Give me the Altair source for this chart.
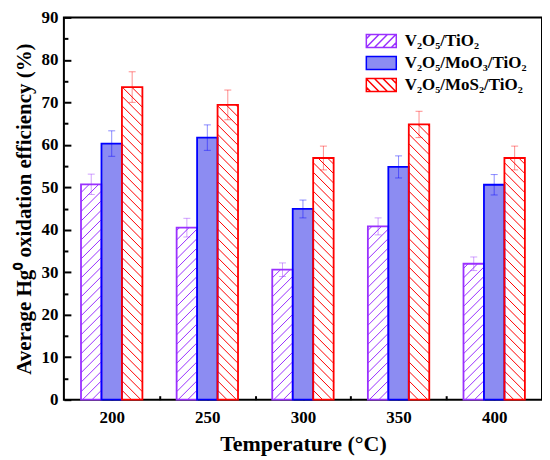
import altair as alt
import numpy as np
import pandas as pd

# ---------------- data ----------------
temps = [200, 250, 300, 350, 400]
series_names = ["V₂O₅/TiO₂", "V₂O₅/MoO₃/TiO₂", "V₂O₅/MoS₂/TiO₂"]
eff_v2o5_tio2 = [50.7, 40.5, 30.6, 40.8, 32.0]
eff_v2o5_moo3_tio2 = [60.3, 61.7, 44.9, 54.8, 50.6]
eff_v2o5_mos2_tio2 = [73.6, 69.4, 56.9, 64.8, 56.9]
err_v2o5_tio2 = [2.4, 2.2, 1.6, 2.0, 1.6]
err_v2o5_moo3_tio2 = [3.0, 3.0, 2.1, 2.6, 2.4]
err_v2o5_mos2_tio2 = [3.6, 3.5, 2.8, 3.1, 2.8]
y_major = list(range(0, 91, 10))
y_minor = list(range(5, 90, 10))
x_major = temps
x_minor = [225, 275, 325, 375]

# ---------------- layout / style ----------------
W, H = 479, 383
XMIN, XMAX = 175, 425
YMIN, YMAX = 0, 90
BAR_W = 10.7          # bar width in x-units
HATCH_GAP = 9.5       # vertical spacing of hatch lines, px
SX = W / (XMAX - XMIN)
SY = H / (YMAX - YMIN)
stroke_colors = ["#9a30ff", "#0000ff", "#ff0000"]
fill_colors = ["#ffffff", "#8c8cf2", "#ffffff"]
hatch_dirs = ["/", None, "\\"]
FONT = "Liberation Serif"

values = [eff_v2o5_tio2, eff_v2o5_moo3_tio2, eff_v2o5_mos2_tio2]
errors = [err_v2o5_tio2, err_v2o5_moo3_tio2, err_v2o5_mos2_tio2]

rows = []
for si, name in enumerate(series_names):
    off = (si - 1) * BAR_W
    for ti, t in enumerate(temps):
        v = values[si][ti]
        e = errors[si][ti]
        rows.append(dict(series=name, order=si, temp=t, val=v,
                         stroke_c=stroke_colors[si], fill_c=fill_colors[si],
                         xl=t + off - BAR_W / 2, xr=t + off + BAR_W / 2,
                         xc=t + off, lo=v - e, hi=v + e))
df = pd.DataFrame(rows)

hrows = []
for r in rows:
    d = hatch_dirs[r["order"]]
    if d is None:
        continue
    w = (r["xr"] - r["xl"]) * SX
    top = r["val"] * SY
    for c in np.arange(-w, top, HATCH_GAP):
        lo = max(0.0, -c)
        hi = min(w, top - c)
        if hi <= lo:
            continue
        if d == "/":
            x1, x2 = r["xl"] + lo / SX, r["xl"] + hi / SX
        else:
            x1, x2 = r["xr"] - lo / SX, r["xr"] - hi / SX
        hrows.append(dict(series=r["series"], stroke_c=r["stroke_c"], hx1=x1, hx2=x2,
                          hy1=(c + lo) / SY, hy2=(c + hi) / SY))
hdf = pd.DataFrame(hrows)


# legend symbol paths (custom shapes)
def legend_path(direction):
    a, b = 2.308, 1.0
    p = f"M{-a},{-b}H{a}V{b}H{-a}Z"
    if direction is None:
        return p
    gap = 1.3
    for c in np.arange(-a - b + gap / 2, a + b, gap):
        y1 = min(b, c + a) if direction == "/" else min(b, a - c)
        y2 = max(-b, c - a) if direction == "/" else max(-b, -a - c)
        if y1 <= y2:
            continue
        if direction == "/":
            p += f"M{c - y1:.3f},{y1:.3f}L{c - y2:.3f},{y2:.3f}"
        else:
            p += f"M{c + y1:.3f},{y1:.3f}L{c + y2:.3f},{y2:.3f}"
    return p


shape_paths = [legend_path(d) for d in hatch_dirs]

xs = alt.Scale(domain=[XMIN, XMAX], nice=False, zero=False)
ys = alt.Scale(domain=[YMIN, YMAX], nice=False, zero=False)

main_x_axis = alt.Axis(values=x_major, ticks=False, domain=False, grid=False,
                       labelFont=FONT, labelFontSize=17, labelFontWeight="bold",
                       labelColor="black", labelPadding=10,
                       title="Temperature (°C)", titleFont=FONT, titleFontSize=22,
                       titleFontWeight="bold", titleColor="black", titlePadding=8)
main_y_axis = alt.Axis(values=y_major, ticks=False, domain=False, grid=False,
                       labelFont=FONT, labelFontSize=17, labelFontWeight="bold",
                       labelColor="black", labelPadding=6,
                       title="Average Hg⁰ oxidation efficiency (%)", titleFont=FONT,
                       titleFontSize=21, titleFontWeight="bold", titleColor="black",
                       titlePadding=6)


def tick_axis_x(vals, size):
    return alt.Axis(orient="top", offset=-H, values=vals, labels=False, domain=False,
                    grid=False, tickSize=size, tickWidth=2, tickColor="black", title=None)


def tick_axis_y(vals, size):
    return alt.Axis(orient="right", offset=-W, values=vals, labels=False, domain=False,
                    grid=False, tickSize=size, tickWidth=2, tickColor="black", title=None)


base = alt.Chart(df)

fills = base.mark_rect(strokeWidth=0).encode(
    x=alt.X("xl:Q", scale=xs, axis=main_x_axis),
    x2="xr:Q",
    y=alt.Y("val:Q", scale=ys, axis=main_y_axis),
    y2=alt.datum(0),
    fill=alt.Fill("fill_c:N", scale=None),
)

hatch = alt.Chart(hdf).mark_rule(strokeWidth=1).encode(
    x=alt.X("hx1:Q", scale=xs, axis=tick_axis_x(x_major, 7)),
    x2="hx2:Q",
    y=alt.Y("hy1:Q", scale=ys, axis=tick_axis_y(y_major, 7)),
    y2="hy2:Q",
    color=alt.Color("stroke_c:N", scale=None),
)

outline = base.mark_rect(filled=False, strokeWidth=1.8).encode(
    x=alt.X("xl:Q", scale=xs, axis=tick_axis_x(x_minor, 4)),
    x2="xr:Q",
    y=alt.Y("val:Q", scale=ys, axis=tick_axis_y(y_minor, 4)),
    y2=alt.datum(0),
    stroke=alt.Stroke("stroke_c:N", scale=None),
)

err_line = base.mark_rule(strokeWidth=1, opacity=0.45).encode(
    x=alt.X("xc:Q", scale=xs, axis=None),
    y=alt.Y("lo:Q", scale=ys, axis=None),
    y2="hi:Q",
    color=alt.Color("stroke_c:N", scale=None),
)

err_caps = base.transform_fold(["lo", "hi"], as_=["end", "yv"]).mark_tick(
    orient="horizontal", size=7, thickness=1, opacity=0.45).encode(
    x=alt.X("xc:Q", scale=xs, axis=None),
    y=alt.Y("yv:Q", scale=ys, axis=None),
    color=alt.Color("stroke_c:N", scale=None),
)

legend_layer = base.transform_filter("false").mark_point(opacity=1, strokeWidth=1.5).encode(
    x=alt.X("xc:Q", scale=xs, axis=None),
    y=alt.Y("val:Q", scale=ys, axis=None),
    stroke=alt.Stroke("series:N", scale=alt.Scale(domain=series_names, range=stroke_colors),
                      legend=alt.Legend(title=None)),
    fill=alt.Fill("series:N", scale=alt.Scale(domain=series_names, range=fill_colors),
                  legend=alt.Legend(title=None)),
    shape=alt.Shape("series:N", scale=alt.Scale(domain=series_names, range=shape_paths),
                    legend=alt.Legend(title=None)),
)

chart = alt.layer(fills, hatch, outline, err_line, err_caps, legend_layer).resolve_axis(
    x="independent", y="independent"
).properties(
    width=W, height=H,
    autosize=alt.AutoSizeParams(type="none"),
    padding={"left": 56, "top": 9, "right": 0, "bottom": 60},
).configure_view(
    stroke="black", strokeWidth=2
).configure_legend(
    orient="none", legendX=309.5, legendY=15.2, padding=0,
    symbolSize=169, symbolStrokeWidth=1.5, labelOffset=15,
    labelFont=FONT, labelFontSize=17, labelFontWeight="bold", labelColor="black",
    rowPadding=3, labelLimit=300,
)

chart.save("out.html", embed_options={"renderer": "svg", "actions": False})
